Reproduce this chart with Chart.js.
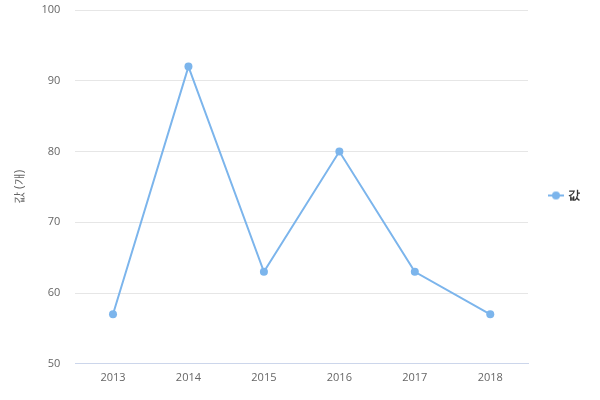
<!DOCTYPE html>
<html lang="ko">
<head>
    <meta charset="UTF-8">
    <title>값</title>
    <style>
        body { margin: 0; padding: 0; background: #ffffff; }
        .chart-container { width: 600px; height: 400px; position: relative; }
    </style>
</head>
<body>
    <div class="chart-container">
        <canvas id="valueChart"></canvas>
    </div>

    <script src="https://cdn.jsdelivr.net/npm/chart.js"></script>
    <script>
        const years = ['2013', '2014', '2015', '2016', '2017', '2018'];
        const values = [57, 92, 63, 80, 63, 57];
        const seriesName = '값';
        const yTitle = '값 (개)';
        const lineColor = '#7cb5ec';

        // legend symbol: short line with a dot in the middle
        const legendIcon = document.createElement('canvas');
        legendIcon.width = 16;
        legendIcon.height = 10;
        const ic = legendIcon.getContext('2d');
        ic.strokeStyle = lineColor;
        ic.lineWidth = 2;
        ic.beginPath();
        ic.moveTo(0, 5);
        ic.lineTo(16, 5);
        ic.stroke();
        ic.fillStyle = lineColor;
        ic.beginPath();
        ic.arc(8, 5, 4, 0, Math.PI * 2);
        ic.fill();

        const ctx = document.getElementById('valueChart').getContext('2d');
        new Chart(ctx, {
            type: 'line',
            data: {
                labels: years,
                datasets: [{
                    label: seriesName,
                    data: values,
                    borderColor: lineColor,
                    backgroundColor: lineColor,
                    pointBackgroundColor: lineColor,
                    pointBorderWidth: 0,
                    pointRadius: 4,
                    pointStyle: 'circle',
                    borderWidth: 2,
                    fill: false,
                    tension: 0
                }]
            },
            options: {
                responsive: true,
                maintainAspectRatio: false,
                animation: false,
                layout: { autoPadding: false, padding: { top: 0, right: 10, left: 12, bottom: 9 } },
                plugins: {
                    legend: {
                        position: 'right',
                        labels: {
                            usePointStyle: true,
                            pointStyle: legendIcon,
                            padding: 22,
                            color: '#333333',
                            font: { family: 'Open Sans', size: 12, weight: 'bold' }
                        }
                    },
                    tooltip: { enabled: false }
                },
                scales: {
                    x: {
                        offset: true,
                        grid: { display: false, drawTicks: false },
                        border: { display: true, color: '#ccd6eb' },
                        ticks: {
                            color: '#666666',
                            padding: 7,
                            font: { family: 'Open Sans', size: 11 }
                        }
                    },
                    y: {
                        min: 50,
                        max: 100,
                        // tick padding would otherwise push the plot top down
                        afterFit: scale => { scale.paddingTop = 10; },
                        ticks: {
                            stepSize: 10,
                            color: '#666666',
                            padding: 15,
                            font: { family: 'Open Sans', size: 11 }
                        },
                        grid: { color: '#e6e6e6', drawTicks: false },
                        border: { display: false },
                        title: {
                            display: true,
                            text: yTitle,
                            color: '#666666',
                            padding: 0,
                            font: { family: 'Open Sans', size: 12 }
                        }
                    }
                }
            }
        });
    </script>
</body>
</html>
